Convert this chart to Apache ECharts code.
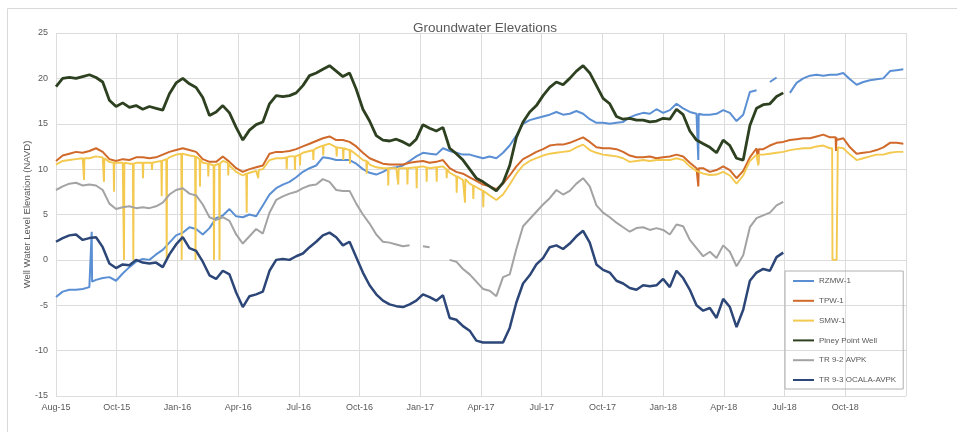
<!DOCTYPE html>
<html>
<head>
<meta charset="utf-8">
<script src="https://cdn.jsdelivr.net/npm/echarts@6/dist/echarts.min.js"></script>
<style>
  html, body { margin: 0; padding: 0; background: #ffffff; }
  #chart { width: 957px; height: 432px; }
</style>
</head>
<body>
<div id="chart"></div>
<script>
// Well levels (ft NAVD) sampled every 10 days from the axis origin date.
const originDate = '2015-08-01';
const stepDays = 10;
const axisMaxDays = 1274;   // 14 major units of 91 days
const majorUnitDays = 91;

const sampleDays = Array.from({ length: 128 }, (_, i) => i * stepDays);

const rzmw1 = [
  -4.1,-3.5,-3.3,-3.3,-3.2,-3.0,-2.2,-2.0,-1.9,-2.3,
  -1.5,-0.8,-0.2,0.1,0.0,0.6,1.1,1.9,2.7,3.0,
  3.6,3.4,2.8,3.5,4.6,4.9,5.6,4.8,4.7,5.0,
  4.8,6.0,7.2,7.9,8.3,8.6,9.1,9.7,10.1,10.4,
  11.3,11.2,11.0,11.0,11.0,10.6,10.0,9.6,9.4,9.7,
  10.1,10.2,10.4,10.9,11.4,11.8,11.7,11.6,12.3,12.0,
  11.8,11.6,11.6,11.4,11.2,11.4,11.2,11.8,12.6,13.7,
  15.0,15.4,15.6,15.8,16.0,16.3,16.0,16.1,16.4,16.1,
  15.5,15.1,15.1,15.0,15.1,15.2,15.7,16.0,16.2,16.1,
  16.6,16.2,16.5,17.2,16.7,16.3,16.1,16.0,16.0,16.1,
  16.5,16.2,15.3,16.0,18.5,18.7,null,19.6,20.1,null,
  18.4,19.5,20.0,20.3,20.4,20.3,20.4,20.4,20.6,19.9,
  19.3,19.6,19.8,19.9,20.0,20.8,20.9,21.0
];

const tpw1 = [
  10.9,11.5,11.7,11.9,11.8,12.0,12.3,11.9,11.1,10.9,
  11.1,11.0,11.3,11.3,11.2,11.3,11.6,11.9,12.1,12.3,
  12.1,11.9,11.1,10.8,10.8,11.4,10.8,10.1,9.7,10.0,
  10.2,10.4,11.7,11.9,11.9,12.0,12.2,12.5,12.8,13.1,
  13.4,13.6,13.2,13.2,13.0,12.5,11.8,11.2,10.9,10.6,
  10.5,10.5,10.5,10.7,10.8,10.9,10.7,10.8,11.0,10.1,
  9.7,9.5,9.1,8.7,8.3,8.1,7.8,8.4,9.3,10.3,
  11.1,11.5,11.9,12.2,12.6,12.7,12.7,12.9,13.2,13.5,
  13.0,12.4,12.3,12.3,12.2,11.9,11.5,11.3,11.3,11.4,
  11.2,11.3,11.4,11.6,11.4,10.7,10.1,10.1,9.7,9.9,
  10.3,9.9,9.0,9.8,11.3,12.3,12.2,12.6,12.9,13.0,
  13.2,13.3,13.4,13.4,13.6,13.8,13.5,13.2,13.4,12.4,
  11.7,11.8,11.9,12.1,12.4,12.9,12.9,12.8
];

const smw1 = [
  10.5,10.9,11.0,11.1,11.2,11.2,11.4,11.3,10.8,10.6,
  10.7,10.6,10.7,10.7,10.7,10.8,11.0,11.3,11.6,11.8,
  11.5,11.4,10.7,10.4,10.4,10.9,10.4,9.7,9.3,9.6,
  9.8,10.0,11.0,11.2,11.2,11.4,11.5,11.8,12.0,12.3,
  12.6,12.8,12.4,12.3,12.1,11.6,11.0,10.5,10.2,10.1,
  10.1,10.1,10.1,10.1,10.2,10.3,10.1,10.2,10.3,9.6,
  9.2,8.8,8.4,8.0,7.6,7.1,6.6,7.2,8.3,9.5,
  10.4,10.9,11.2,11.5,11.7,11.8,11.9,12.0,12.4,12.7,
  12.1,11.8,11.6,11.5,11.4,11.2,10.8,10.9,11.0,10.9,
  11.0,11.0,11.0,11.2,11.0,10.3,9.8,9.5,9.35,9.4,
  9.7,9.3,8.4,9.3,10.9,11.6,11.6,11.7,11.8,11.9,
  12.1,12.2,12.3,12.3,12.5,12.6,12.3,0.0,12.3,11.6,
  11.0,11.2,11.4,11.6,11.6,11.8,11.9,11.9
];

const pineyPoint = [
  19.1,20.0,20.1,20.0,20.2,20.4,20.1,19.6,17.6,16.9,
  17.3,16.8,17.0,16.6,16.9,16.7,16.5,18.3,19.5,20.0,
  19.4,19.0,17.9,15.9,16.3,17.0,16.2,14.6,13.2,14.3,
  14.9,15.2,17.2,18.1,18.0,18.1,18.4,19.2,20.3,20.6,
  21.0,21.4,20.8,20.2,20.6,18.8,16.6,15.3,13.7,13.2,
  13.1,13.3,13.0,12.6,13.3,14.9,14.5,14.2,14.6,12.3,
  11.7,11.0,10.0,9.0,8.6,8.1,7.6,8.5,10.4,13.5,
  15.2,16.3,17.0,18.1,19.0,19.6,19.3,20.0,20.8,21.4,
  20.6,19.2,17.8,17.2,15.8,15.5,15.6,15.4,15.4,15.2,
  15.3,15.6,15.5,16.6,16.0,14.2,13.2,12.8,12.4,11.8,
  13.2,12.6,11.2,11.0,14.8,16.7,17.1,17.2,18.0,18.4
];

const tr92Avpk = [
  7.7,8.1,8.4,8.5,8.2,8.3,8.2,7.7,6.2,5.6,
  5.8,5.9,5.7,5.8,5.7,5.9,6.3,7.2,7.7,7.9,
  7.3,7.1,6.1,4.7,4.4,4.7,4.3,2.8,1.8,2.6,
  3.4,2.9,5.2,6.6,7.0,7.3,7.5,7.9,8.2,8.3,
  8.9,8.6,7.7,7.6,7.6,6.2,5.0,4.0,2.8,2.0,
  1.9,1.7,1.5,1.6,null,1.5,1.4,null,null,0.0,
  -0.2,-1.0,-1.6,-2.4,-3.2,-3.4,-4.0,-1.9,-1.6,1.2,
  3.7,4.5,5.3,6.1,6.8,7.7,7.2,7.6,8.4,9.0,
  8.1,6.0,5.2,4.7,4.1,3.6,3.1,3.5,3.6,3.3,
  3.5,3.3,2.8,3.9,3.7,2.2,1.3,0.4,0.9,0.2,
  1.6,0.9,-0.7,0.5,3.6,4.6,4.9,5.2,6.0,6.4
];

const tr93OcalaAvpk = [
  2.0,2.4,2.7,2.8,2.2,2.4,2.5,1.4,-0.4,-0.9,
  -0.5,-0.6,0.0,-0.3,-0.4,-0.3,-0.8,0.6,1.7,2.5,
  1.3,1.0,-0.2,-1.7,-2.1,-1.2,-1.6,-3.6,-5.2,-4.0,
  -3.8,-3.5,-1.2,0.0,0.1,0.0,0.4,0.7,1.4,2.0,
  2.7,3.0,2.5,1.6,2.0,0.3,-1.4,-2.8,-3.8,-4.5,
  -4.9,-5.1,-5.2,-4.9,-4.5,-3.8,-4.1,-4.5,-3.9,-6.4,
  -6.6,-7.3,-7.8,-8.9,-9.1,-9.1,-9.1,-9.1,-7.5,-4.7,
  -2.6,-1.7,-0.5,0.2,1.4,1.6,1.2,1.8,2.6,3.2,
  1.9,-0.5,-1.1,-1.4,-2.3,-2.6,-3.1,-3.3,-2.8,-2.9,
  -2.8,-2.1,-3.0,-1.2,-2.0,-3.3,-5.0,-5.6,-5.3,-6.4,
  -4.3,-5.2,-7.4,-5.5,-2.3,-1.4,-1.0,-1.2,0.3,0.8
];

// Short-lived excursions between samples: [day, level before, reading, level after]
const smw1Drops = [
  [42.0,11.2,8.8],[71.9,11.2,8.6],[86.9,10.7,7.5],[101.9,10.7,0.0],[115.9,10.6,0.0],
  [130.4,10.7,9.0],[143.9,10.7,9.9],[158.4,10.9,7.0],[165.9,11.1,0.0],[188.4,11.7,0.0],
  [209.1,11.4,0.0],[215.8,11.1,8.1],[228.3,10.6,9.2],[236.8,10.4,0.0],[245.1,10.6,0.0],
  [258.2,10.7,9.3],[285.8,9.5,5.2],[303.2,9.9,9.0],[345.8,11.3,10.0],[358.2,11.4,9.9],
  [365.7,11.6,10.4],[385.7,12.1,11.0],[400.6,12.6,11.5],[420.7,12.4,11.4],[430.6,12.3,11.0],
  [440.6,12.1,10.6],[465.7,10.9,9.5],[498.0,10.1,8.2],[513.0,10.1,8.3],[526.8,10.1,8.3],
  [540.6,10.2,7.9],[555.6,10.2,8.6],[570.6,10.2,8.6],[585.6,10.0,9.0],[600.6,9.2,7.4],
  [613.0,8.9,6.3],[625.5,8.2,6.7],[640.4,7.6,5.8],[1052.6,11.6,10.4]
];
// Transducer outage in autumn 2018, logged as zero
const smw1Outage = [[1163.3,12.3],[1163.8,0.0],[1171.3,0.0],[1171.8,12.4]];
const tpw1Drops = [[962.7,10.1,8.1],[1052.6,12.2,10.6],[1169.1,13.5,12.0]];
const rzmw1Jumps = [[53.5,-3.0,3.1,-2.4],[962.7,16.2,11.0,16.1]];

const MONTHS = ['Jan','Feb','Mar','Apr','May','Jun','Jul','Aug','Sep','Oct','Nov','Dec'];
const originMs = Date.parse(originDate + 'T00:00:00Z');
function dayLabel(d) {
  const t = new Date(originMs + Math.round(d) * 86400000);
  return MONTHS[t.getUTCMonth()] + '-' + String(t.getUTCFullYear()).slice(2);
}

function excursions(list) {
  const out = [];
  list.forEach(([d, before, reading, after]) => {
    out.push([d - 0.6, before], [d, reading], [d + 0.6, after === undefined ? before : after]);
  });
  return out;
}

function toPoints(values, extra) {
  const pts = values.map((v, i) => [sampleDays[i], v === null ? '-' : v]);
  (extra || []).forEach(p => pts.push(p));
  pts.sort((a, b) => a[0] - b[0]);
  return pts;
}

const seriesDefs = [
  { name: 'RZMW-1', color: '#5b8fd4', width: 2, data: toPoints(rzmw1, excursions(rzmw1Jumps)) },
  { name: 'TPW-1', color: '#d0692a', width: 2, data: toPoints(tpw1, excursions(tpw1Drops)) },
  { name: 'SMW-1', color: '#f3c94f', width: 1.9, data: toPoints(smw1, excursions(smw1Drops).concat(smw1Outage)) },
  { name: 'Piney Point Well', color: '#2d4020', width: 2.8, data: toPoints(pineyPoint) },
  { name: 'TR 9-2 AVPK', color: '#a3a3a3', width: 2, data: toPoints(tr92Avpk) },
  { name: 'TR 9-3 OCALA-AVPK', color: '#2c4677', width: 2.5, data: toPoints(tr93OcalaAvpk) }
];

const FONT = 'Liberation Sans, Arial, sans-serif';
const TEXT = '#595959';
const GRIDLINE = '#dcdcdc';

const chart = echarts.init(document.getElementById('chart'), null, { renderer: 'canvas' });
chart.setOption({
  animation: false,
  backgroundColor: '#ffffff',
  textStyle: { fontFamily: FONT },
  title: {
    text: 'Groundwater Elevations',
    left: 408, top: 16,
    textStyle: { fontSize: 13.5, fontWeight: 'normal', color: TEXT, fontFamily: FONT }
  },
  graphic: [{
    type: 'rect', silent: true, z: -10,
    shape: { x: 7.5, y: 8.5, width: 960, height: 440 },
    style: { fill: 'none', stroke: '#d9d9d9', lineWidth: 1 }
  }],
  grid: { left: 56, right: 51, top: 33, bottom: 36 },
  legend: {
    orient: 'vertical',
    left: 785, top: 271,
    padding: [6, 7, 5, 7],
    itemWidth: 21, itemHeight: 10, itemGap: 11.8,
    borderColor: '#b0b0b0', borderWidth: 1,
    itemStyle: { color: 'rgba(0,0,0,0)', borderWidth: 0, opacity: 0 },
    textStyle: { fontSize: 8, color: TEXT, fontFamily: FONT },
    data: seriesDefs.map(s => s.name)
  },
  xAxis: {
    type: 'value',
    min: 0, max: axisMaxDays, interval: majorUnitDays,
    axisLine: { show: false },
    axisTick: { show: false },
    splitLine: { show: true, lineStyle: { color: GRIDLINE, width: 1 } },
    axisLabel: {
      formatter: dayLabel, showMaxLabel: false,
      fontSize: 9, color: TEXT, margin: 7, fontFamily: FONT
    }
  },
  yAxis: {
    type: 'value',
    min: -15, max: 25, interval: 5,
    name: 'Well Water Level Elevation (NAVD)',
    nameLocation: 'middle', nameGap: 24, nameMoveOverlap: false,
    nameTextStyle: { fontSize: 9.5, color: TEXT, fontFamily: FONT },
    axisLine: { show: false },
    axisTick: { show: false },
    splitLine: { show: true, lineStyle: { color: GRIDLINE, width: 1 } },
    axisLabel: { fontSize: 9, color: TEXT, margin: 8, fontFamily: FONT }
  },
  series: seriesDefs.map(s => ({
    name: s.name,
    type: 'line',
    symbol: 'none',
    connectNulls: false,
    color: s.color,
    lineStyle: { color: s.color, width: s.width },
    itemStyle: { color: s.color },
    emphasis: { disabled: true },
    data: s.data
  }))
});
</script>
</body>
</html>
